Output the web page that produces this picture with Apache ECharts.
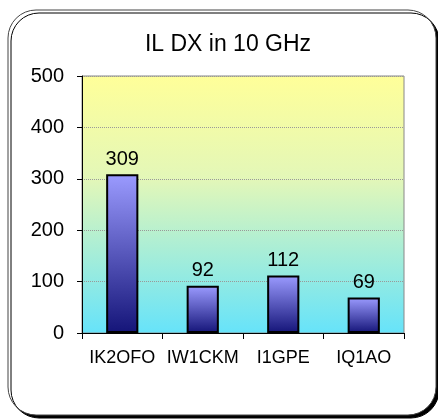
<!DOCTYPE html>
<html><head><meta charset="utf-8">
<script src="https://cdn.jsdelivr.net/npm/echarts@6/dist/echarts.min.js"></script>
<style>html,body{margin:0;padding:0;background:#fff}#c{width:438px;height:420px}</style>
</head><body><div id="c"></div>
<script>
var categories = ['IK2OFO', 'IW1CKM', 'I1GPE', 'IQ1AO'];
var values = [309, 92, 112, 69];
var yTicks = [0, 100, 200, 300, 400, 500];

var chart = echarts.init(document.getElementById('c'));
chart.setOption({
  animation: false,
  graphic: [{
    type: 'rect', z: -10,
    shape: { x: 8, y: 10, width: 428, height: 405, r: 28 },
    style: { fill: '#fff', stroke: '#444', lineWidth: 1, shadowColor: '#000', shadowOffsetX: 3, shadowOffsetY: 3, shadowBlur: 0 }
  }],
  title: {
    text: 'IL DX in 10 GHz', left: 223, top: 28, textAlign: 'center',
    textStyle: { fontFamily: 'Liberation Sans', fontSize: 23, fontWeight: 'normal', color: '#000' }
  },
  grid: {
    left: 82, right: 34, top: 76, bottom: 87, show: true,
    borderColor: '#888', borderWidth: 1,
    backgroundColor: { type: 'linear', x: 0, y: 0, x2: 0, y2: 1, colorStops: [
      { offset: 0, color: '#FFFF99' }, { offset: 0.4, color: '#E3F7B8' }, { offset: 1, color: '#66E3FA' }] }
  },
  xAxis: {
    type: 'category', data: categories,
    axisLine: { lineStyle: { color: '#000', width: 1 } },
    axisTick: { show: true, length: 6, lineStyle: { color: '#000' } },
    axisLabel: { fontFamily: 'Liberation Sans', fontSize: 18, color: '#000', margin: 16, interval: 0 }
  },
  yAxis: {
    type: 'value', min: 0, max: 500, interval: 100,
    axisLine: { show: true, lineStyle: { color: '#000' } },
    axisTick: { show: true, length: 5, lineStyle: { color: '#000' } },
    axisLabel: { fontFamily: 'Liberation Sans', fontSize: 20, color: '#000', margin: 18,
      formatter: function (v) { return yTicks.indexOf(v) >= 0 ? String(v) : ''; } },
    splitLine: { lineStyle: { color: '#999', type: 'dotted', width: 1 } }
  },
  series: [{
    type: 'bar', data: values, barWidth: '40%',
    itemStyle: {
      borderColor: '#000', borderWidth: 2,
      color: { type: 'linear', x: 0, y: 0, x2: 0, y2: 1, colorStops: [
        { offset: 0, color: '#9B9BFF' }, { offset: 1, color: '#141478' }] }
    },
    label: { show: true, position: 'top', distance: 5, fontFamily: 'Liberation Sans', fontSize: 20, color: '#000' }
  }]
});
</script></body></html>
